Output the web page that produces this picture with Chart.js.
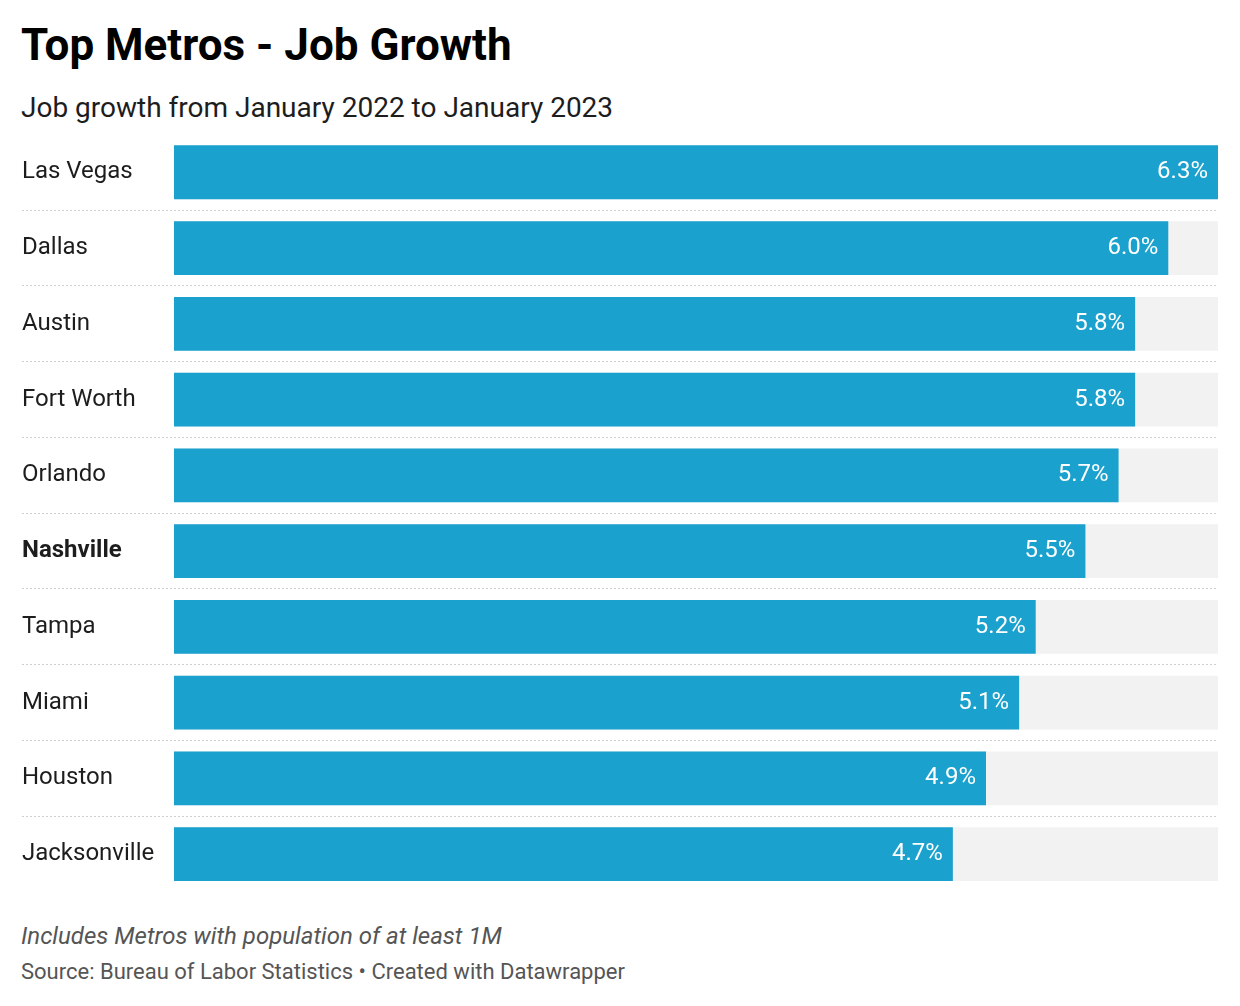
<!DOCTYPE html>
<html>
<head>
<meta charset="utf-8">
<script src="https://cdn.jsdelivr.net/npm/chart.js"></script>
<style>
  body {
    margin: 0;
    background: #fff;
    font-family: Roboto, sans-serif;
    width: 1240px;
    height: 1006px;
    position: relative;
    overflow: hidden;
  }
  .txt {
    position: absolute;
    left: 21px;
    line-height: 1;
    white-space: nowrap;
  }
  #title { top: 23px; font-size: 44px; font-weight: bold; color: #000; }
  #subtitle { top: 94px; font-size: 28px; color: #1d1d1d; }
  #note { top: 924px; font-size: 24px; font-style: italic; color: #555; }
  #source { top: 961px; font-size: 22px; color: #555; }
  #wrap { position: absolute; left: 0; top: 120px; width: 1240px; height: 790px; }
</style>
</head>
<body>
<div class="txt" id="title">Top Metros - Job Growth</div>
<div class="txt" id="subtitle">Job growth from January 2022 to January 2023</div>
<div id="wrap"><canvas id="chart" width="1240" height="790"></canvas></div>
<div class="txt" id="note">Includes Metros with population of at least 1M</div>
<div class="txt" id="source">Source: Bureau of Labor Statistics • Created with Datawrapper</div>

<script>
const metros = ['Las Vegas', 'Dallas', 'Austin', 'Fort Worth', 'Orlando', 'Nashville', 'Tampa', 'Miami', 'Houston', 'Jacksonville'];
const jobGrowth = [6.3, 6.0, 5.8, 5.8, 5.7, 5.5, 5.2, 5.1, 4.9, 4.7];
const highlight = 'Nashville';
const axisMax = 6.3;

const barColor = '#1aa1cd';
const trackColor = '#f2f2f2';

// white value labels at the end of each bar
const valueLabels = {
  id: 'valueLabels',
  afterDatasetsDraw(chart) {
    const ctx = chart.ctx;
    const meta = chart.getDatasetMeta(0);
    ctx.save();
    ctx.fillStyle = '#fff';
    ctx.font = '24px Roboto';
    ctx.textAlign = 'right';
    ctx.textBaseline = 'middle';
    meta.data.forEach((bar, i) => {
      ctx.fillText(jobGrowth[i].toFixed(1) + '%', bar.x - 10, bar.y);
    });
    ctx.restore();
  }
};

new Chart(document.getElementById('chart'), {
  type: 'bar',
  data: {
    labels: metros,
    datasets: [
      {
        data: jobGrowth,
        backgroundColor: barColor,
        grouped: false,
        order: 0,
        categoryPercentage: 1,
        barPercentage: 54 / 76
      },
      {
        data: metros.map(() => axisMax),
        backgroundColor: trackColor,
        grouped: false,
        order: 1,
        categoryPercentage: 1,
        barPercentage: 54 / 76
      }
    ]
  },
  options: {
    indexAxis: 'y',
    responsive: false,
    animation: false,
    layout: { padding: { left: 22, right: 22, top: 12, bottom: 18 } },
    plugins: {
      legend: { display: false },
      tooltip: { enabled: false }
    },
    scales: {
      x: { display: false, min: 0, max: axisMax },
      y: {
        afterFit(scale) { scale.width = 152; },
        border: { display: false, dash: [2, 2] },
        grid: {
          offset: true,
          drawOnChartArea: true,
          drawTicks: true,
          tickLength: 152,
          tickBorderDash: [2, 2],
          lineWidth: 1,
          // no separator above the first row or below the last one
          color: ctx => (ctx.type !== 'tick' || ctx.index === 0) ? 'rgba(0,0,0,0)' : '#cfcfcf'
        },
        ticks: {
          crossAlign: 'far',
          padding: 0,
          color: '#1d1d1d',
          font: ctx => ({
            family: 'Roboto',
            size: 24,
            weight: ctx.tick && ctx.tick.label === highlight ? 'bold' : 'normal'
          })
        }
      }
    }
  },
  plugins: [valueLabels]
});
</script>
</body>
</html>
